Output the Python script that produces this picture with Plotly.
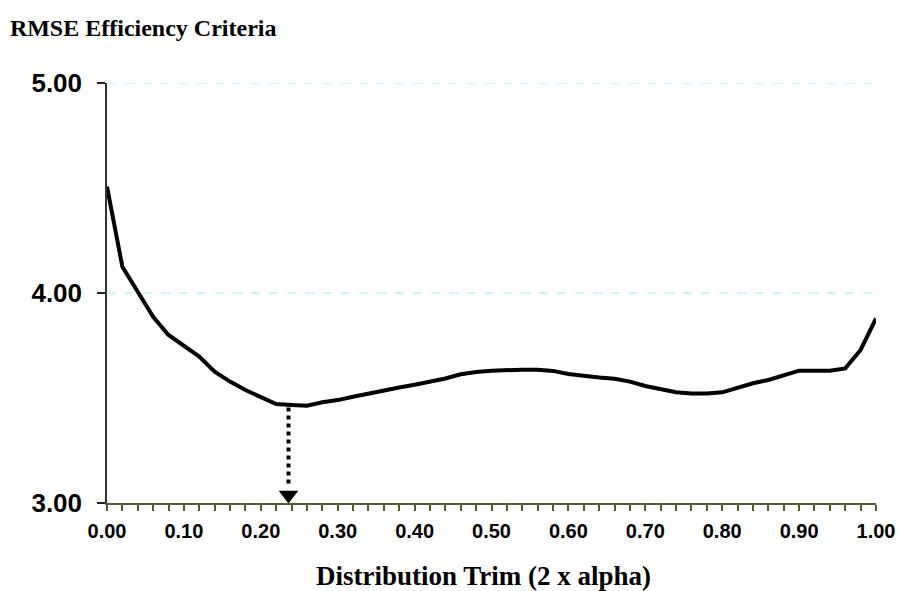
import plotly.graph_objects as go

trim = [round(i * 0.02, 2) for i in range(51)]
rmse = [4.506, 4.125, 4.006, 3.887, 3.800, 3.748, 3.697, 3.625, 3.578, 3.538,
        3.503, 3.471, 3.467, 3.463, 3.480, 3.490, 3.506, 3.522, 3.535, 3.550,
        3.563, 3.578, 3.593, 3.613, 3.624, 3.630, 3.634, 3.635, 3.634, 3.629,
        3.614, 3.605, 3.598, 3.592, 3.578, 3.557, 3.541, 3.527, 3.521, 3.521,
        3.527, 3.551, 3.570, 3.586, 3.610, 3.630, 3.630, 3.630, 3.641, 3.729,
        3.879]
arrow_x = [0.236, 0.236]
arrow_y = [3.455, 3.075]
x_ticks = [round(i * 0.1, 2) for i in range(11)]
x_labels = [f"{v:.2f}" for v in x_ticks]
y_ticks = [3, 4, 5]
y_labels = ["3.00", "4.00", "5.00"]
grid_vals = [4, 5]

fig = go.Figure()
fig.add_trace(go.Scatter(x=trim, y=rmse, mode="lines",
                         line=dict(color="black", width=4), cliponaxis=False,
                         showlegend=False, hoverinfo="skip"))
fig.add_trace(go.Scatter(x=arrow_x, y=arrow_y, mode="lines",
                         line=dict(color="black", width=4, dash="dot"),
                         showlegend=False, hoverinfo="skip"))
fig.add_trace(go.Scatter(x=[arrow_x[0]], y=[3.038], mode="markers",
                         marker=dict(symbol="triangle-down", size=17, color="black"),
                         cliponaxis=False, showlegend=False, hoverinfo="skip"))

shapes = [dict(type="line", xref="paper", yref="y", x0=0, x1=1, y0=g, y1=g,
               line=dict(color="#96f0f0", width=1, dash="dash"), layer="below")
          for g in grid_vals]

fig.update_layout(
    width=898, height=591,
    margin=dict(l=107, r=22, t=83, b=88, autoexpand=False),
    paper_bgcolor="white", plot_bgcolor="white",
    shapes=shapes,
    title=dict(text="<b>RMSE Efficiency Criteria</b>", x=0.011, xanchor="left",
               y=0.9526, yanchor="middle",
               font=dict(family="Liberation Serif", size=24, color="black")),
    xaxis=dict(range=[0, 1], tickvals=x_ticks, ticktext=x_labels, automargin=False,
               ticks="outside", ticklen=6, tickwidth=1.5, tickcolor="#5c5c2e",
               showline=True, linecolor="#5c5c2e", linewidth=1.5,
               showgrid=False, zeroline=False, ticklabelstandoff=3,
               minor=dict(dtick=0.02, tick0=0, ticks="outside", ticklen=6,
                          tickwidth=1.5, tickcolor="#5c5c2e", showgrid=False),
               tickfont=dict(family="Liberation Sans", size=20, color="black", weight="bold")),
    yaxis=dict(range=[3, 5], tickvals=y_ticks, ticktext=y_labels, automargin=False,
               ticks="outside", ticklen=8, tickwidth=1.5, tickcolor="#222222",
               showline=True, linecolor="#333333", linewidth=1.5,
               showgrid=False, zeroline=False, ticklabelstandoff=10,
               tickfont=dict(family="Liberation Sans", size=26, color="black", weight="bold")),
    annotations=[dict(text="<b>Distribution Trim (2 x alpha)</b>", xref="paper", yref="paper",
                      x=0.4895, y=-0.174, xanchor="center", yanchor="middle", showarrow=False,
                      font=dict(family="Liberation Serif", size=27, color="black"))],
)
fig.write_html("out.html",
               config={"displayModeBar": False},
               post_script="document.body.style.margin='0';"
                           "document.documentElement.style.overflow='hidden';"
                           "document.body.style.overflow='hidden';")
